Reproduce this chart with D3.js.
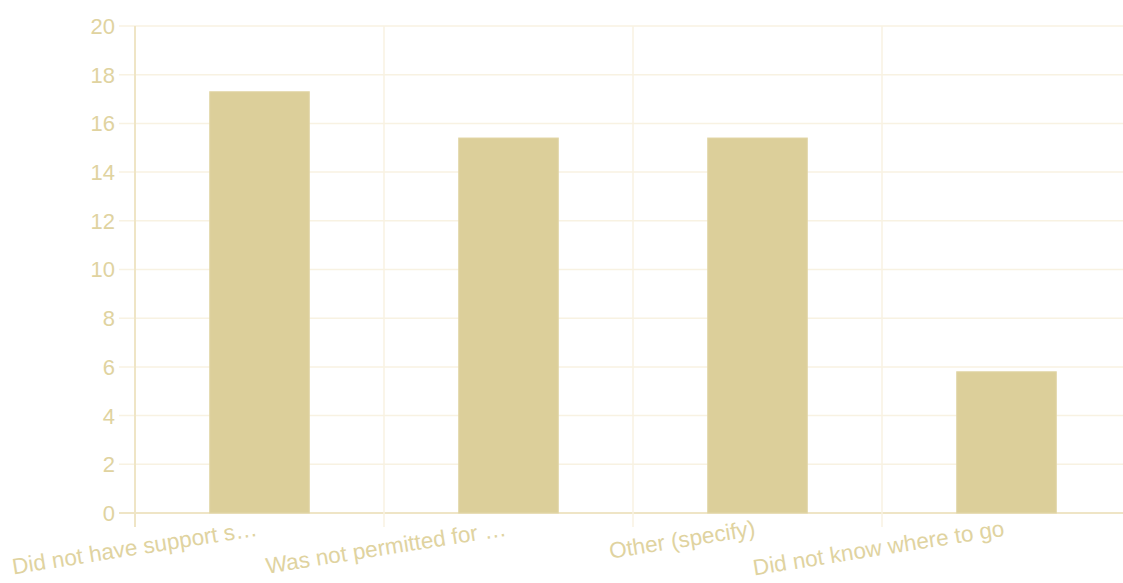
<!DOCTYPE html>
<html><head><meta charset="utf-8">
<script src="https://cdn.jsdelivr.net/npm/d3@7"></script>
<style>html,body{margin:0;padding:0;background:#fff;}svg{display:block;}</style>
</head><body><svg id="c" width="1123" height="583"></svg>
<script>
const categories = ["Did not have support s…", "Was not permitted for …", "Other (specify)", "Did not know where to go"];
const values = [17.3, 15.4, 15.4, 5.8];
const yTicks = [0, 2, 4, 6, 8, 10, 12, 14, 16, 18, 20];

const svg = d3.select("#c");
const W = 1123, H = 583;
const x = d3.scaleBand().domain(categories).range([135, 1131]);
const y = d3.scaleLinear().domain([0, 20]).range([513, 26]);
const textColor = "#e0d3a0";
const gridColor = "#f8f2e2";
const axisColor = "#efe5c6";
const font = "22.5px 'Liberation Sans', Arial, sans-serif";

// horizontal gridlines
svg.append("g").selectAll("line").data(yTicks).join("line")
  .attr("x1", 119).attr("x2", W)
  .attr("y1", d => y(d)).attr("y2", d => y(d))
  .attr("stroke", d => d === 0 ? axisColor : gridColor).attr("stroke-width", d => d === 0 ? 2 : 1.5);

// vertical gridlines at band starts
svg.append("g").selectAll("line").data(categories).join("line")
  .attr("x1", d => x(d)).attr("x2", d => x(d))
  .attr("y1", y(20)).attr("y2", y(0) + 14)
  .attr("stroke", (d, i) => i === 0 ? axisColor : gridColor).attr("stroke-width", (d, i) => i === 0 ? 2 : 1.5);

// y labels
svg.append("g").selectAll("text").data(yTicks).join("text")
  .attr("x", 115).attr("y", d => y(d)).attr("dy", "0.36em")
  .attr("text-anchor", "end").attr("fill", textColor)
  .style("font", "22px 'Liberation Sans', Arial, sans-serif")
  .text(d => d);

// bars
const bw = x.bandwidth() * 0.4;
svg.append("g").selectAll("rect").data(values).join("rect")
  .attr("x", (d, i) => x(categories[i]) + x.bandwidth() / 2 - bw / 2)
  .attr("width", bw)
  .attr("y", d => y(d)).attr("height", d => y(0) - y(d))
  .attr("fill", "#dccf9a").attr("stroke", "#e2d6a8").attr("stroke-width", 1);

// x labels rotated
svg.append("g").selectAll("text").data(categories).join("text")
  .attr("transform", d => `translate(${x(d) + x.bandwidth() / 2 - 4},${y(0) + 6}) rotate(-9)`)
  .attr("dy", "0.75em")
  .attr("text-anchor", "end").attr("fill", textColor)
  .style("font", font)
  .text(d => d);
</script></body></html>
